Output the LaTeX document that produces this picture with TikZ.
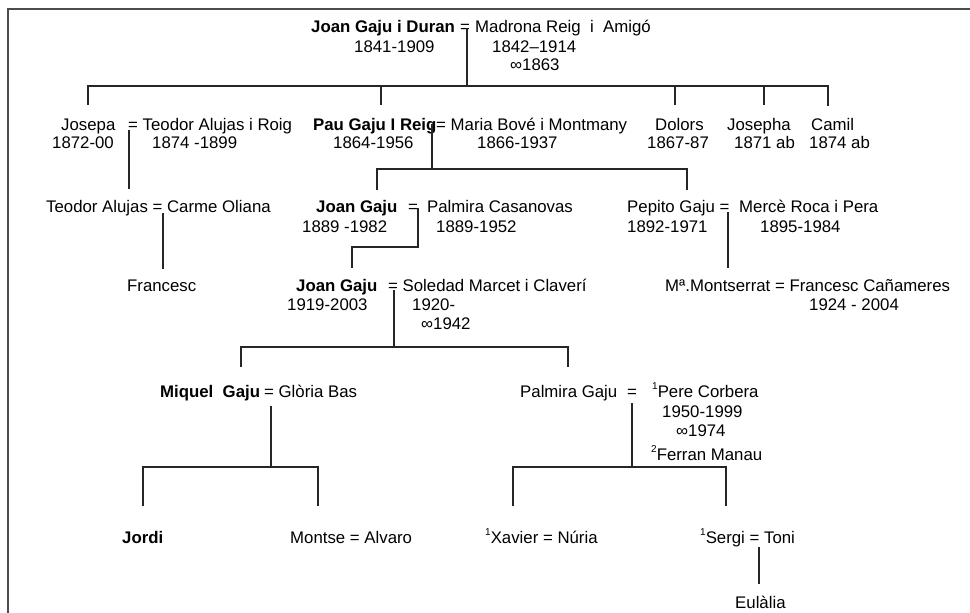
\documentclass[tikz,border=0pt]{standalone}
\usepackage{fontspec}
\setmainfont{Liberation Sans}
\newcommand\fs{\fontsize{16.8}{18}\selectfont}
\newcommand\supn[1]{\raisebox{0.42em}{\fontsize{10}{10}\selectfont #1}}
\begin{document}
\begin{tikzpicture}[x=1pt,y=-1pt,
  t/.style={anchor=base west,inner sep=0pt,font=\fs},
  b/.style={anchor=base west,inner sep=0pt,font=\fs\bfseries},
  ln/.style={line width=1.8pt,draw=black!85},
  frame/.style={line width=2pt,draw=black!70}]
\useasboundingbox (0,0) rectangle (970,613);
\draw[frame] (8,613) -- (8,8.5) -- (970,8.5);

% ---- generation 1
\node[b] (jgd) at (311,32) {Joan Gaju i Duran};
\node[t] (eq0) at (460,32) {=};
\node[t] (mra) at (475,32) {Madrona Reig\ \ i\ \ Amigó};
\node[t] (d0a) at (354,52) {1841-1909};
\node[t] (d0b) at (492,52) {1842–1914};
\node[t] (m0) at (510,70) {∞1863};

\coordinate (r0top) at (467,28);
\coordinate (r0bar) at (467,86);
\coordinate (k1) at (88,105);
\coordinate (k2) at (381,105);
\coordinate (k3) at (675,105);
\coordinate (k4) at (764,105);
\coordinate (k5) at (828,106);
\draw[ln] (r0top) -- (r0bar);
\draw[ln] (k1) -- (k1 |- r0bar) -- (k5 |- r0bar) -- (k5);
\draw[ln] (k2 |- r0bar) -- (k2);
\draw[ln] (k3 |- r0bar) -- (k3);
\draw[ln] (k4 |- r0bar) -- (k4);

% ---- generation 2
\node[t] (jos) at (61,130) {Josepa};
\node[t] (tar) at (128,130) {= Teodor Alujas i Roig};
\node[t] (d1a) at (52,148) {1872-00};
\node[t] (d1b) at (152,148) {1874 -1899};
\node[b] (pgr) at (313,130) {Pau Gaju I Reig};
\node[t] (mbm) at (436,130) {= Maria Bové i Montmany};
\node[t] (d2a) at (333,148) {1864-1956};
\node[t] (d2b) at (477,148) {1866-1937};
\node[t] (dol) at (655,130) {Dolors};
\node[t] (d3) at (647,148) {1867-87};
\node[t] (jph) at (727,130) {Josepha};
\node[t] (d4) at (734,148) {1871 ab};
\node[t] (cam) at (811,130) {Camil};
\node[t] (d5) at (809,148) {1874 ab};

\coordinate (c1top) at (129,130);
\coordinate (c1bot) at (129,189);
\draw[ln] (c1top) -- (c1bot);

\coordinate (c2top) at (432,124);
\coordinate (c2bar) at (432,169);
\coordinate (k6) at (377,190);
\coordinate (k7) at (687,190);
\draw[ln] (c2top) -- (c2bar);
\draw[ln] (k6) -- (k6 |- c2bar) -- (k7 |- c2bar) -- (k7);

% ---- generation 3
\node[t] (tac) at (46,212) {Teodor Alujas = Carme Oliana};
\coordinate (c3top) at (163,213);
\coordinate (c3bot) at (163,269);
\draw[ln] (c3top) -- (c3bot);
\node[t] (fra) at (127,291) {Francesc};

\node[b] (jg1) at (316,212) {Joan Gaju};
\node[t] (eq3) at (408,212) {=};
\node[t] (pca) at (427,212) {Palmira Casanovas};
\node[t] (d6a) at (302,232) {1889 -1982};
\node[t] (d6b) at (436,232) {1889-1952};
\coordinate (c4top) at (418,208);
\coordinate (c4bar) at (418,247);
\coordinate (k8) at (352,268);
\draw[ln] (c4top) -- (c4bar) -- (k8 |- c4bar) -- (k8);

\node[t] (pep) at (627,212) {Pepito Gaju =};
\node[t] (mrp) at (739,212) {Mercè Roca i Pera};
\node[t] (d7a) at (627,232) {1892-1971};
\node[t] (d7b) at (760,232) {1895-1984};
\coordinate (c5top) at (728,212);
\coordinate (c5bot) at (728,268);
\draw[ln] (c5top) -- (c5bot);

% ---- generation 4
\node[b] (jg2) at (296,291) {Joan Gaju};
\node[t] (smc) at (388,291) {= Soledad Marcet i Claverí};
\node[t] (d8a) at (287,310) {1919-2003};
\node[t] (d8b) at (412,310) {1920-};
\node[t] (m8) at (421,329) {∞1942};
\coordinate (c6top) at (394,290);
\coordinate (c6bar) at (394,347);
\coordinate (k9) at (241,367);
\coordinate (k10) at (568,367);
\draw[ln] (c6top) -- (c6bar);
\draw[ln] (k9) -- (k9 |- c6bar) -- (k10 |- c6bar) -- (k10);

\node[t] (mmf) at (665,291) {Mª.Montserrat = Francesc Cañameres};
\node[t] (d9) at (809,310) {1924 - 2004};

% ---- generation 5
\node[b] (mqg) at (160,397) {Miquel\ \ Gaju};
\node[t] (gba) at (264,397) {= Glòria Bas};
\coordinate (c7top) at (271,406);
\coordinate (c7bar) at (271,467);
\coordinate (k11) at (143,506);
\coordinate (k12) at (318,506);
\draw[ln] (c7top) -- (c7bar);
\draw[ln] (k11) -- (k11 |- c7bar) -- (k12 |- c7bar) -- (k12);

\node[t] (pgj) at (520,397) {Palmira Gaju};
\node[t] (eq5) at (627,397) {=};
\node[t] (pco) at (652,397) {\supn{1}Pere Corbera};
\node[t] (d10) at (662,417) {1950-1999};
\node[t] (m10) at (676,436) {∞1974};
\node[t] (fma) at (651,460) {\supn{2}Ferran Manau};
\coordinate (c8top) at (632,403);
\coordinate (c8bar) at (632,467);
\coordinate (k13) at (513,506);
\coordinate (k14) at (726,506);
\draw[ln] (c8top) -- (c8bar);
\draw[ln] (k13) -- (k13 |- c8bar) -- (k14 |- c8bar) -- (k14);

% ---- generation 6
\node[b] (jor) at (122,543) {Jordi};
\node[t] (moa) at (290,543) {Montse = Alvaro};
\node[t] (xan) at (485,543) {\supn{1}Xavier = Núria};
\node[t] (sto) at (700,543) {\supn{1}Sergi = Toni};
\coordinate (c9top) at (759,547);
\coordinate (c9bot) at (759,584);
\draw[ln] (c9top) -- (c9bot);
\node[t] (eul) at (735,608) {Eulàlia};
\end{tikzpicture}
\end{document}
